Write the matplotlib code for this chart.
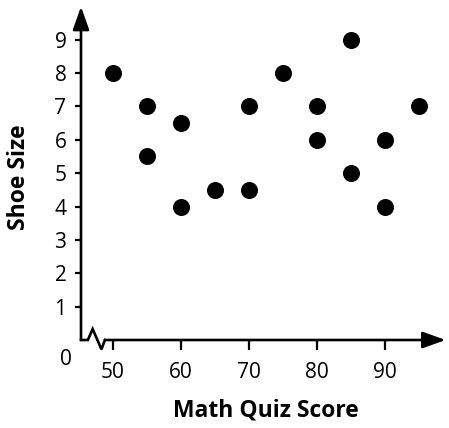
import matplotlib
matplotlib.use("Agg")
import matplotlib.pyplot as plt

plt.rcParams['font.family'] = ['Open Sans', 'DejaVu Sans']

# Data
scores = [50, 55, 55, 60, 60, 65, 70, 70, 75, 80, 80, 85, 85, 90, 90, 95]
shoe_sizes = [8, 7, 5.5, 6.5, 4, 4.5, 7, 4.5, 8, 7, 6, 9, 5, 6, 4, 7]
x_ticks = [50, 60, 70, 80, 90]
y_ticks = [1, 2, 3, 4, 5, 6, 7, 8, 9]

W, H = 449, 428
fig = plt.figure(figsize=(W / 100, H / 100), dpi=100)
left_px, right_px, top_px, bot_px = 81, 445, 5, 340
ax = fig.add_axes([left_px / W, 1 - bot_px / H, (right_px - left_px) / W, (bot_px - top_px) / H])

xmin, xmax = 45.29, 98.82
ymin, ymax = 0, 10.04
ax.set_xlim(xmin, xmax)
ax.set_ylim(ymin, ymax)

for s in ax.spines.values():
    s.set_visible(False)

ax.scatter(scores, shoe_sizes, s=150, color='black', zorder=3, linewidths=0)

ax.set_xticks(x_ticks)
ax.set_yticks(y_ticks)
ax.tick_params(axis='x', direction='out', length=7, width=1.6, pad=9, labelsize=15)
ax.tick_params(axis='y', direction='out', length=4.5, width=1.6, pad=6, labelsize=15)

lw = 1.9
# x-axis with break symbol
ax.plot([xmin, 46.3, 47.0, 48.3, 48.8], [0, 0, 0.33, -0.28, 0], color='black', lw=lw,
        clip_on=False, solid_joinstyle='miter', zorder=4)
ax.annotate('', xy=(xmax + 0.1, 0), xytext=(48.8, 0),
            arrowprops=dict(arrowstyle='-|>,head_length=1.4,head_width=0.5', lw=lw, color='black',
                            shrinkA=0, shrinkB=0), annotation_clip=False)
# y-axis
ax.annotate('', xy=(xmin, 9.99), xytext=(xmin, 0),
            arrowprops=dict(arrowstyle='-|>,head_length=1.4,head_width=0.5', lw=lw, color='black',
                            shrinkA=0, shrinkB=0), annotation_clip=False)

ax.text(43.1, -0.57, '0', fontsize=15, ha='center', va='center', clip_on=False)

fig.text(266 / W, 1 - 411 / H, 'Math Quiz Score', fontsize=16.5, fontweight='bold', ha='center', va='center')
fig.text(19 / W, 1 - 177 / H, 'Shoe Size', fontsize=16.5, fontweight='bold', ha='center', va='center',
         rotation=90)

fig.savefig('out.png', dpi=100)
